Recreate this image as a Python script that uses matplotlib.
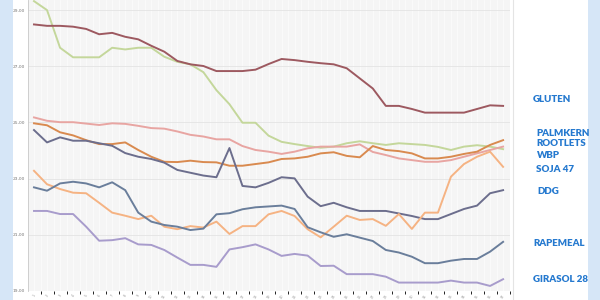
import matplotlib

matplotlib.use("Agg")
import matplotlib.pyplot as plt
from matplotlib.patches import Rectangle
from matplotlib.lines import Line2D
import numpy as np


# weekly prices
weeks = [str(i) for i in range(1, 38)]

gluten = [28.49, 28.44, 28.44, 28.41, 28.33, 28.14, 28.19, 28.05, 27.96, 27.73,
          27.52, 27.19, 27.07, 27.01, 26.83, 26.83, 26.83, 26.88, 27.08, 27.26,
          27.22, 27.16, 27.11, 27.07, 26.93, 26.57, 26.21, 25.59, 25.59, 25.48,
          25.35, 25.35, 25.35, 25.35, 25.48, 25.61, 25.59]
palmkern = [29.32, 29.00, 27.66, 27.32, 27.32, 27.32, 27.66, 27.60, 27.66, 27.66,
            27.34, 27.16, 27.07, 26.79, 26.15, 25.65, 24.99, 24.99, 24.53, 24.31,
            24.23, 24.16, 24.10, 24.14, 24.26, 24.33, 24.26, 24.20, 24.26, 24.23,
            24.20, 24.13, 24.02, 24.14, 24.19, 24.14, 24.05]
rootlets = [25.18, 25.06, 25.01, 25.01, 24.96, 24.91, 24.97, 24.95, 24.88, 24.80,
            24.78, 24.68, 24.56, 24.50, 24.40, 24.40, 24.16, 24.02, 23.96, 23.88,
            23.96, 24.08, 24.14, 24.14, 24.14, 24.22, 23.95, 23.84, 23.72, 23.66,
            23.60, 23.60, 23.66, 23.78, 23.90, 24.02, 24.14]
wbp = [24.97, 24.90, 24.65, 24.54, 24.37, 24.23, 24.23, 24.29, 24.02, 23.78,
       23.60, 23.59, 23.64, 23.59, 23.58, 23.46, 23.46, 23.52, 23.58, 23.70,
       23.72, 23.78, 23.90, 23.94, 23.81, 23.76, 24.16, 24.02, 23.98, 23.90,
       23.72, 23.72, 23.78, 23.88, 23.96, 24.20, 24.37]
ddg = [24.73, 24.29, 24.47, 24.35, 24.35, 24.26, 24.17, 23.91, 23.78, 23.70,
       23.57, 23.31, 23.21, 23.11, 23.05, 24.09, 22.74, 22.69, 22.85, 23.05,
       23.01, 22.36, 22.02, 22.14, 21.98, 21.85, 21.85, 21.85, 21.76, 21.67,
       21.56, 21.56, 21.74, 21.92, 22.04, 22.48, 22.59]
soja47 = [23.28, 22.80, 22.63, 22.50, 22.48, 22.14, 21.79, 21.68, 21.56, 21.68,
          21.29, 21.20, 21.31, 21.26, 21.47, 21.03, 21.31, 21.31, 21.73, 21.85,
          21.67, 21.20, 20.91, 21.29, 21.68, 21.53, 21.56, 21.32, 21.74, 21.21,
          21.79, 21.79, 23.07, 23.52, 23.78, 23.96, 23.42]
rapemeal = [22.69, 22.57, 22.83, 22.89, 22.83, 22.69, 22.87, 22.59, 21.79, 21.47,
            21.35, 21.29, 21.17, 21.22, 21.73, 21.77, 21.91, 21.98, 22.01, 22.04,
            21.92, 21.27, 21.09, 20.93, 21.02, 20.90, 20.78, 20.46, 20.37, 20.22,
            19.99, 19.99, 20.08, 20.14, 20.14, 20.40, 20.75]
girasol28 = [21.85, 21.85, 21.74, 21.74, 21.29, 20.79, 20.81, 20.88, 20.66, 20.64,
             20.46, 20.19, 19.93, 19.93, 19.86, 20.48, 20.56, 20.66, 20.48, 20.25,
             20.32, 20.26, 19.89, 19.90, 19.60, 19.60, 19.60, 19.51, 19.30, 19.30,
             19.30, 19.30, 19.37, 19.30, 19.30, 19.18, 19.42]

y_ticks = [19, 21, 23, 25, 27, 29]

series = [
    (palmkern, "#c4d79b"),
    (gluten, "#9d5960"),
    (rootlets, "#e8a5a2"),
    (wbp, "#d98a4f"),
    (ddg, "#6c6e8d"),
    (soja47, "#f5b383"),
    (rapemeal, "#6a7e9b"),
    (girasol28, "#a89ccc"),
]

labels = [
    ("GLUTEN", 533, 100),
    ("PALMKERN", 536, 133),
    ("ROOTLETS", 536, 144),
    ("WBP", 537, 156),
    ("SOJA 47", 536, 170),
    ("DDG", 537, 192),
    ("RAPEMEAL", 533, 244),
    ("GIRASOL 28", 533, 279),
]

fig = plt.figure(figsize=(6, 3), dpi=100)
fig.patch.set_facecolor("white")
fig.patches.append(Rectangle((0, 0), 13 / 600, 1, transform=fig.transFigure,
                             facecolor="#d6e6f7", edgecolor="none"))
fig.patches.append(Rectangle((588 / 600, 0), 12 / 600, 1, transform=fig.transFigure,
                             facecolor="#d6e6f7", edgecolor="none"))
fig.lines.append(Line2D([513 / 600, 513 / 600], [0, 1], transform=fig.transFigure,
                        color="#e4e4e4", linewidth=0.8))

ax = fig.add_axes([28 / 600, 9 / 300, 482 / 600, 291 / 300])
ax.set_facecolor("#f5f5f5")
x = np.arange(len(weeks))
for values, color in series:
    ax.plot(x, values, color=color, linewidth=1.4, solid_joinstyle="round")

ax.set_xlim(-0.46, 36.53)
ax.set_ylim(19.0, 29.36)
ax.set_xticks(x)
ax.set_xticklabels(weeks, rotation=60, fontsize=2.5, color="#999999")
ax.set_xticks(x + 0.5, minor=True)
ax.set_yticks(y_ticks)
ax.set_yticklabels([f"{v:.2f}".replace(".", ",") for v in y_ticks],
                   fontsize=3.2, color="#777777")
ax.tick_params(length=0, pad=2)
ax.grid(True, axis="x", which="both", color="#fbfbfb", linewidth=0.6)
ax.grid(True, axis="y", color="#e4e4e4", linewidth=0.6)
ax.set_axisbelow(True)
for side in ("top", "right", "bottom"):
    ax.spines[side].set_visible(False)
ax.spines["left"].set_color("#c8c8c8")
ax.spines["left"].set_linewidth(0.6)

for text, xpix, ypix in labels:
    fig.text(xpix / 600, 1 - ypix / 300, text, fontsize=7, fontweight="heavy",
             color="#2579cf", family=["Lato", "DejaVu Sans"], va="center", ha="left")

fig.savefig("out.png", dpi=100)
